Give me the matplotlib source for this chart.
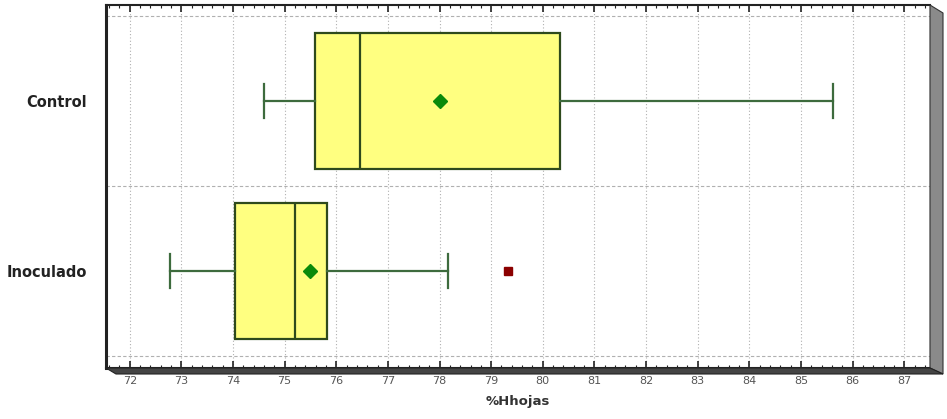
import matplotlib
matplotlib.use("Agg")
import matplotlib.pyplot as plt
import matplotlib.ticker as mticker
from matplotlib.patches import Polygon

# ── data ─────────────────────────────────────────────────────────────────────
groups   = ["Inoculado", "Control"]
whislo   = [72.78, 74.60]
q1       = [74.04, 75.58]
medians  = [75.21, 76.46]
q3       = [75.83, 80.33]
whishi   = [78.17, 85.63]
means    = [75.50, 78.00]
outliers = [[79.33], []]
xticks   = list(range(72, 88))

# ── style ─────────────────────────────────────────────────────────────────────
BOX_FILL = "#ffff80"; BOX_EDGE = "#2e4a1c"; WHISK = "#3d6b3d"
C_MEAN = "#0a8a0a"; C_OUT = "#8b0000"

fig = plt.figure(figsize=(9.47, 4.19), dpi=100)
W, H = 947, 419
L, R, T, B = 106, 930, 5, 368
ax = fig.add_axes([L / W, 1 - B / H, (R - L) / W, (B - T) / H])

stats = []
for i, g in enumerate(groups):
    stats.append(dict(label=g, whislo=whislo[i], q1=q1[i], med=medians[i],
                      q3=q3[i], whishi=whishi[i], mean=means[i], fliers=outliers[i]))

ax.bxp(stats, positions=[1, 2], orientation="horizontal", widths=0.8,
       patch_artist=True, showmeans=True, showcaps=True,
       boxprops=dict(facecolor=BOX_FILL, edgecolor=BOX_EDGE, linewidth=1.6),
       medianprops=dict(color=BOX_EDGE, linewidth=1.6),
       whiskerprops=dict(color=WHISK, linewidth=1.6),
       capprops=dict(color=WHISK, linewidth=1.6),
       capwidths=0.2,
       meanprops=dict(marker="D", markerfacecolor=C_MEAN, markeredgecolor=C_MEAN, markersize=7),
       flierprops=dict(marker="s", markerfacecolor=C_OUT, markeredgecolor=C_OUT, markersize=6))

ax.set_xlim(71.54, 87.5)
ax.set_ylim(0.43, 2.565)
ax.set_yticks([1, 2])
ax.set_yticklabels(groups, fontsize=10.5, fontweight="bold", color="#222222")
ax.tick_params(axis="y", length=0, pad=14)

ax.set_xticks(xticks)
ax.xaxis.set_minor_locator(mticker.MultipleLocator(0.2))
ax.tick_params(axis="x", which="both", direction="in", top=True, bottom=True,
               labelsize=8, labelcolor="#555555", color="#222222", pad=6)
ax.tick_params(axis="x", which="major", length=5, width=1.2)
ax.tick_params(axis="x", which="minor", length=2.5, width=0.8)
ax.set_xlabel("%Hhojas", fontsize=9.5, fontweight="bold", color="#333333", labelpad=6)

# grid
for x in xticks:
    ax.axvline(x, color="#b0b0b0", lw=0.8, ls=(0, (1, 2)), zorder=0)
for y in [0.5, 1.5, 2.5]:
    ax.axhline(y, color="#b0b0b0", lw=0.8, ls=(0, (3, 2)), zorder=0)

for s in ["top", "bottom"]:
    ax.spines[s].set_linewidth(1.5)
    ax.spines[s].set_color("#222222")
ax.spines["left"].set_linewidth(2.2)
ax.spines["left"].set_color("#222222")
ax.spines["right"].set_linewidth(0.8)
ax.spines["right"].set_color("#444444")

# 3D frame: right side panel and bottom shadow
def fx(p): return p / W
def fy(p): return 1 - p / H
fig.patches.append(Polygon([(fx(R), fy(T)), (fx(943), fy(13)), (fx(943), fy(374)), (fx(R), fy(B))],
                           closed=True, transform=fig.transFigure, facecolor="#8a8a8a",
                           edgecolor="#333333", lw=0.8))
fig.patches.append(Polygon([(fx(L), fy(B)), (fx(R), fy(B)), (fx(943), fy(374)), (fx(L + 10), fy(374))],
                           closed=True, transform=fig.transFigure, facecolor="#444444",
                           edgecolor="#222222", lw=0.8))

plt.savefig("out.png", dpi=100, facecolor="white")
